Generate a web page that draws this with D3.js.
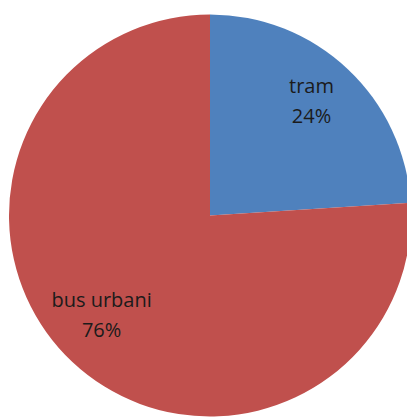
<!DOCTYPE html>
<html>
<head>
<meta charset="utf-8">
<script src="https://cdn.jsdelivr.net/npm/d3@7/dist/d3.min.js"></script>
<style>
  html, body { margin: 0; padding: 0; background: #fff; }
  svg { display: block; }
</style>
</head>
<body>
<svg id="chart" width="407" height="417"></svg>
<script>
// Modal share of urban public transport
const categories = ["tram", "bus urbani"];
const shares = [24, 76];
const sliceColors = ["#4F81BD", "#C0504D"];

const svg = d3.select("#chart");
const cx = 210, cy = 215.5, radius = 201;

const pie = d3.pie().sort(null).value(d => d.value);
const arcs = pie(categories.map((c, i) => ({ name: c, value: shares[i] })));

const arc = d3.arc().innerRadius(0).outerRadius(radius);
// labels sit a little further out on the small slice than on the large one
const labelRadius = d => radius * (d.endAngle - d.startAngle < Math.PI ? 0.745 : 0.715);
const labelArcs = arcs.map(d => d3.arc().innerRadius(labelRadius(d)).outerRadius(labelRadius(d)));

const g = svg.append("g").attr("transform", `translate(${cx},${cy})`);

g.selectAll("path")
  .data(arcs)
  .join("path")
  .attr("d", arc)
  .attr("fill", (d, i) => sliceColors[i]);

const total = d3.sum(shares);
const labels = g.selectAll("text")
  .data(arcs)
  .join("text")
  .attr("transform", (d, i) => {
    const [x, y] = labelArcs[i].centroid(d);
    // nudge the large slice's label toward the left edge
    const shift = d.endAngle - d.startAngle < Math.PI ? -1 : -10;
    return `translate(${x + shift},${y})`;
  })
  .attr("text-anchor", "middle")
  .style("font-family", "'Open Sans', sans-serif")
  .style("font-size", "20px")
  .style("fill", "#1b1b1b");

labels.append("tspan")
  .attr("x", 0)
  .attr("y", -13)
  .text(d => d.data.name);
labels.append("tspan")
  .attr("x", 0)
  .attr("y", 17)
  .text(d => Math.round(d.data.value / total * 100) + "%");
</script>
</body>
</html>
